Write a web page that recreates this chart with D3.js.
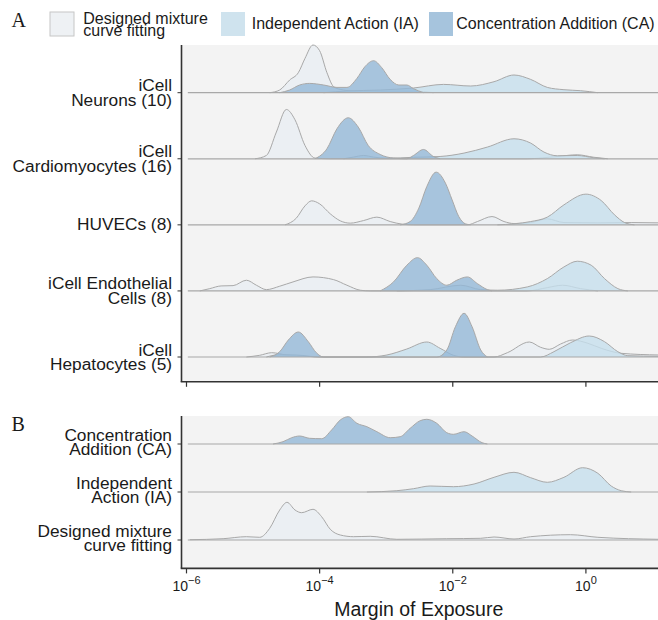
<!DOCTYPE html>
<html>
<head>
<meta charset="utf-8">
<script src="https://cdn.jsdelivr.net/npm/d3@7/dist/d3.min.js"></script>
<style>
  body { margin: 0; background: #ffffff; }
  svg { display: block; font-family: "Liberation Sans", Arial, Helvetica, sans-serif; }
</style>
</head>
<body>
<svg id="chart" width="658" height="620"></svg>
<script>
// ---- categories ----
const methodKeys = ["DM", "IA", "CA"];
const methodNames = ["Designed mixture\ncurve fitting", "Independent Action (IA)", "Concentration Addition (CA)"];

const cellLines = ["iCell\nNeurons (10)", "iCell\nCardiomyocytes (16)", "HUVECs (8)",
                   "iCell Endothelial\nCells (8)", "iCell\nHepatocytes (5)"];
const pooledRows = ["Concentration\nAddition (CA)", "Independent\nAction (IA)", "Designed mixture\ncurve fitting"];

// x axis ticks (log10 of margin of exposure)
const tickExponents = [-6, -4, -2, 0];

// ---- density curves: [log10 MoE, density (a.u.)] ----
const neuronsDM = [[-4.75,0],[-4.60,0.27],[-4.45,1.27],[-4.32,2.0],[-4.22,3.43],[-4.10,4.77],[-4.00,4.2],[-3.89,2.0],[-3.79,0.6],[-3.69,0.33],[-3.49,0.17],[-3.09,0.15],[-2.59,0.15],[-2.29,0]];
const neuronsIA = [[-3.94,0],[-3.59,0.17],[-3.09,0.27],[-2.59,0.47],[-2.14,0.83],[-1.73,0.67],[-1.38,1.1],[-1.08,1.77],[-0.83,1.33],[-0.58,0.53],[-0.33,0.3],[-0.08,0.2],[0.18,0]];
const neuronsCA = [[-4.60,0],[-4.45,0.27],[-4.30,0.77],[-4.15,0.93],[-3.94,0.77],[-3.74,0.53],[-3.59,0.53],[-3.44,1.43],[-3.32,2.6],[-3.19,3.2],[-3.07,2.53],[-2.94,1.33],[-2.81,0.77],[-2.69,0.77],[-2.59,0.4],[-2.44,0]];

const cardioDM = [[-4.97,0],[-4.80,0.33],[-4.65,2.67],[-4.50,4.93],[-4.37,3.9],[-4.22,1.33],[-4.07,0.07],[-3.84,0],[-0.88,0],[-0.43,0.23],[-0.13,0.4],[0.12,0.15],[0.33,0]];
const cardioIA = [[-3.64,0],[-3.49,0.17],[-3.34,0.33],[-3.19,0.17],[-2.99,0.05],[-2.59,0.15],[-2.19,0.23],[-1.83,0.57],[-1.48,1.17],[-1.08,2.0],[-0.83,1.57],[-0.63,0.67],[-0.43,0.3],[-0.13,0.33],[0.12,0.1],[0.28,0]];
const cardioCA = [[-4.07,0],[-3.89,1.0],[-3.74,3.0],[-3.57,4.1],[-3.42,3.17],[-3.27,1.33],[-3.09,0.43],[-2.89,0.07],[-2.69,0],[-2.59,0.33],[-2.44,0.93],[-2.29,0.23],[-2.19,0]];

const huvecDM = [[-4.52,0],[-4.35,0.67],[-4.22,1.9],[-4.12,2.4],[-4.00,2.1],[-3.84,1.1],[-3.69,0.4],[-3.54,0.17],[-3.34,0.43],[-3.14,0.77],[-2.94,0.33],[-2.76,0.07],[-2.59,0],[-1.78,0],[-1.63,0.33],[-1.41,0.83],[-1.23,0.33],[-1.08,0.13],[-0.83,0.23],[-0.58,0.6],[-0.33,0.23],[0.18,0.2],[0.68,0.23],[1.10,0.2]];
const huvecIA = [[-1.33,0],[-1.08,0.1],[-0.83,0.33],[-0.58,0.77],[-0.33,2.0],[0.00,3.07],[0.23,2.43],[0.43,1.0],[0.58,0.23],[0.73,0]];
const huvecCA = [[-2.79,0],[-2.64,0.33],[-2.51,1.67],[-2.39,3.83],[-2.25,5.27],[-2.11,4.17],[-2.01,2.5],[-1.91,0.83],[-1.81,0.1],[-1.73,0]];

const endoDM = [[-5.80,0],[-5.65,0.23],[-5.48,0.5],[-5.30,0.53],[-5.10,1.07],[-4.95,0.57],[-4.80,0.13],[-4.60,0.47],[-4.40,0.9],[-4.10,1.4],[-3.79,1.13],[-3.59,0.57],[-3.39,0.07],[-3.24,0],[-0.88,0],[-0.58,0.33],[-0.35,0.57],[-0.08,0.23],[0.18,0]];
const endoIA = [[-2.84,0],[-2.34,0.13],[-1.88,0.57],[-1.58,0.13],[-1.33,0.07],[-0.88,0.4],[-0.58,1.23],[-0.33,2.4],[-0.13,2.97],[0.08,2.57],[0.28,1.23],[0.48,0.23],[0.63,0]];
const endoCA = [[-3.09,0],[-2.89,0.9],[-2.69,2.57],[-2.53,3.33],[-2.39,2.57],[-2.24,1.23],[-2.09,0.57],[-1.94,1.07],[-1.78,1.4],[-1.63,0.73],[-1.48,0.13],[-1.41,0]];

const hepDM = [[-5.10,0],[-4.90,0.17],[-4.72,0.43],[-4.50,0.2],[-4.20,0.07],[-3.94,0],[-1.38,0],[-1.18,0.43],[-0.85,1.5],[-0.68,0.97],[-0.55,0.77],[-0.38,1.3],[-0.20,1.7],[0.03,1.37],[0.23,0.87],[0.53,0.37],[1.10,0.2]];
const hepIA = [[-4.80,0],[-4.60,0.23],[-4.35,0.2],[-4.00,0],[-3.29,0],[-2.99,0.2],[-2.69,0.8],[-2.39,1.5],[-2.19,0.87],[-1.99,0.17],[-1.83,0],[-0.68,0],[-0.48,0.53],[-0.23,1.43],[0.05,2.1],[0.28,1.53],[0.48,0.53],[0.63,0.13],[1.10,0.07]];
const hepCA = [[-4.75,0],[-4.60,0.53],[-4.47,1.7],[-4.32,2.5],[-4.17,1.53],[-4.05,0.43],[-3.94,0],[-2.24,0],[-2.09,0.7],[-1.96,3.03],[-1.83,4.37],[-1.71,3.03],[-1.58,0.7],[-1.48,0]];

const pooledCA = [[-4.70,0],[-4.55,0.23],[-4.42,0.63],[-4.30,0.8],[-4.15,0.57],[-3.97,0.53],[-3.82,1.4],[-3.69,2.4],[-3.57,2.73],[-3.44,2.07],[-3.29,1.73],[-3.14,1.23],[-2.94,0.63],[-2.79,0.73],[-2.64,1.57],[-2.49,2.33],[-2.39,2.47],[-2.24,2.07],[-2.09,1.13],[-1.99,0.97],[-1.83,1.23],[-1.71,0.8],[-1.56,0.13],[-1.48,0]];
const pooledIA = [[-3.29,0],[-2.84,0.13],[-2.59,0.33],[-2.34,0.6],[-1.99,0.53],[-1.68,0.8],[-1.38,1.47],[-1.08,1.97],[-0.83,1.43],[-0.58,0.97],[-0.33,1.47],[-0.05,2.43],[0.18,1.87],[0.38,0.6],[0.53,0.13],[0.68,0]];
const pooledDM = [[-5.95,0.03],[-5.45,0.13],[-5.10,0.33],[-4.90,0.27],[-4.75,1.17],[-4.60,3.0],[-4.49,3.77],[-4.37,3.0],[-4.27,2.73],[-4.10,3.07],[-3.97,2.33],[-3.84,1.07],[-3.69,0.5],[-3.49,0.33],[-3.24,0.37],[-2.84,0.07],[-2.09,0.13],[-1.58,0.17],[-1.38,0.3],[-1.08,0.1],[-0.83,0.33],[-0.23,0.53],[0.18,0.27],[1.10,0.07]];

// ---- assemble rows ----
const panelARows = [
  { label: cellLines[0], DM: neuronsDM, IA: neuronsIA, CA: neuronsCA },
  { label: cellLines[1], DM: cardioDM,  IA: cardioIA,  CA: cardioCA },
  { label: cellLines[2], DM: huvecDM,   IA: huvecIA,   CA: huvecCA },
  { label: cellLines[3], DM: endoDM,    IA: endoIA,    CA: endoCA },
  { label: cellLines[4], DM: hepDM,     IA: hepIA,     CA: hepCA }
];
const panelBRows = [
  { label: pooledRows[0], CA: pooledCA },
  { label: pooledRows[1], IA: pooledIA },
  { label: pooledRows[2], DM: pooledDM }
];

// ---- styling ----
const fills = { DM: "#e8edf2", IA: "#c6deec", CA: "#93b8d7" };
const keyFills = { DM: "#eef1f4", IA: "#cfe3ee", CA: "#a6c4dd" };
const fillOpacity = 0.8;
const outline = "#a8a8a8";
const panelBg = "#f3f3f3";
const axisColor = "#333333";

const svg = d3.select("#chart");
const W = 658;
const left = 181.5;

const x = d3.scaleLog()
  .domain([Math.pow(10, -6.075), Math.pow(10, 1.083)])
  .range([left, W]);

const heightScale = d3.scaleLinear().domain([0, 1]).range([0, 10]);

function drawPanel(cfg) {
  const { rows, top, bottom, firstBase, lastBase, id, labelOffsets } = cfg;
  const g = svg.append("g");

  g.append("rect")
    .attr("x", left).attr("y", top)
    .attr("width", W - left).attr("height", bottom - top)
    .attr("fill", panelBg);

  const clipId = "clip-" + id;
  svg.append("clipPath").attr("id", clipId)
    .append("rect").attr("x", left).attr("y", top - 5)
    .attr("width", W - left).attr("height", bottom - top + 5);

  const y = d3.scalePoint()
    .domain(rows.map(r => r.label))
    .range([firstBase, lastBase]);

  const plot = g.append("g").attr("clip-path", `url(#${clipId})`);

  rows.forEach(row => {
    const base = y(row.label);
    const area = d3.area()
      .x(d => x(Math.pow(10, d[0])))
      .y0(base)
      .y1(d => base - heightScale(d[1]))
      .curve(d3.curveMonotoneX);
    const line = d3.line()
      .x(d => x(Math.pow(10, d[0])))
      .y(d => base - heightScale(d[1]))
      .curve(d3.curveMonotoneX);

    methodKeys.forEach(k => {
      if (!row[k]) return;
      plot.append("path")
        .datum(row[k])
        .attr("d", area)
        .attr("fill", fills[k])
        .attr("fill-opacity", fillOpacity);
      plot.append("path")
        .datum(row[k])
        .attr("d", line)
        .attr("fill", "none")
        .attr("stroke", outline)
        .attr("stroke-width", 1);
    });

    // ridge baseline
    plot.append("line")
      .attr("x1", x(Math.pow(10, -5.98))).attr("x2", W)
      .attr("y1", base).attr("y2", base)
      .attr("stroke", outline).attr("stroke-width", 1.2);

    // y tick
    g.append("line")
      .attr("x1", left - 4).attr("x2", left)
      .attr("y1", base).attr("y2", base)
      .attr("stroke", axisColor).attr("stroke-width", 1);

    // y label
    const lines = row.label.split("\n");
    const t = g.append("text")
      .attr("text-anchor", "end")
      .attr("font-size", 17.3)
      .attr("fill", "#1a1a1a");
    const offsets = lines.length === 1 ? [5.5] : labelOffsets;
    lines.forEach((s, i) => {
      t.append("tspan").attr("x", 172).attr("y", base + offsets[i]).text(s);
    });
  });

  // axis lines
  g.append("line")
    .attr("x1", left).attr("x2", left)
    .attr("y1", top).attr("y2", bottom)
    .attr("stroke", axisColor).attr("stroke-width", 1.6);
  g.append("line")
    .attr("x1", left - 0.8).attr("x2", W)
    .attr("y1", bottom).attr("y2", bottom)
    .attr("stroke", axisColor).attr("stroke-width", 1.6);

  // x ticks
  tickExponents.forEach(e => {
    g.append("line")
      .attr("x1", x(Math.pow(10, e))).attr("x2", x(Math.pow(10, e)))
      .attr("y1", bottom).attr("y2", bottom + 5)
      .attr("stroke", axisColor).attr("stroke-width", 1.2);
  });
  return g;
}

drawPanel({ rows: panelARows, top: 45, bottom: 381.8, firstBase: 92.7, lastBase: 357, id: "a", labelOffsets: [-1.5, 12.9] });
const gB = drawPanel({ rows: panelBRows, top: 416, bottom: 568.4, firstBase: 444, lastBase: 540, id: "b", labelOffsets: [-3.5, 10.9] });

// x tick labels (panel B only)
tickExponents.forEach(e => {
  const t = gB.append("text")
    .attr("x", x(Math.pow(10, e)))
    .attr("y", 590.7)
    .attr("text-anchor", "middle")
    .attr("font-size", 14)
    .attr("fill", "#1a1a1a");
  t.append("tspan").text("10");
  t.append("tspan")
    .attr("font-size", 11)
    .attr("dy", -6.5)
    .text(e < 0 ? "\u2212" + Math.abs(e) : String(e));
});

svg.append("text")
  .attr("x", (left + W) / 2 - 1)
  .attr("y", 616)
  .attr("text-anchor", "middle")
  .attr("font-size", 19.5)
  .attr("fill", "#1a1a1a")
  .text("Margin of Exposure");

// panel letters
svg.append("text").attr("x", 11.5).attr("y", 27)
  .attr("font-family", "Liberation Serif, Times New Roman, serif")
  .attr("font-size", 20).attr("fill", "#1a1a1a").text("A");
svg.append("text").attr("x", 11.5).attr("y", 430.5)
  .attr("font-family", "Liberation Serif, Times New Roman, serif")
  .attr("font-size", 20).attr("fill", "#1a1a1a").text("B");

// legend
const legendItems = [
  { key: "DM", boxX: 50, textX: 83.3 },
  { key: "IA", boxX: 221, textX: 251.7 },
  { key: "CA", boxX: 429, textX: 456.3 }
];
legendItems.forEach((it, i) => {
  svg.append("rect")
    .attr("x", it.boxX).attr("y", 12)
    .attr("width", 24).attr("height", 24)
    .attr("fill", keyFills[it.key])
    .attr("stroke", it.key === "DM" ? "#c6c6c6" : "none")
    .attr("stroke-width", 1);
  const lines = methodNames[i].split("\n");
  const t = svg.append("text")
    .attr("font-size", 16)
    .attr("fill", "#1a1a1a");
  const ys = lines.length === 1 ? [29.3] : [24, 36];
  lines.forEach((s, j) => {
    t.append("tspan").attr("x", it.textX).attr("y", ys[j]).text(s);
  });
});
</script>
</body>
</html>
